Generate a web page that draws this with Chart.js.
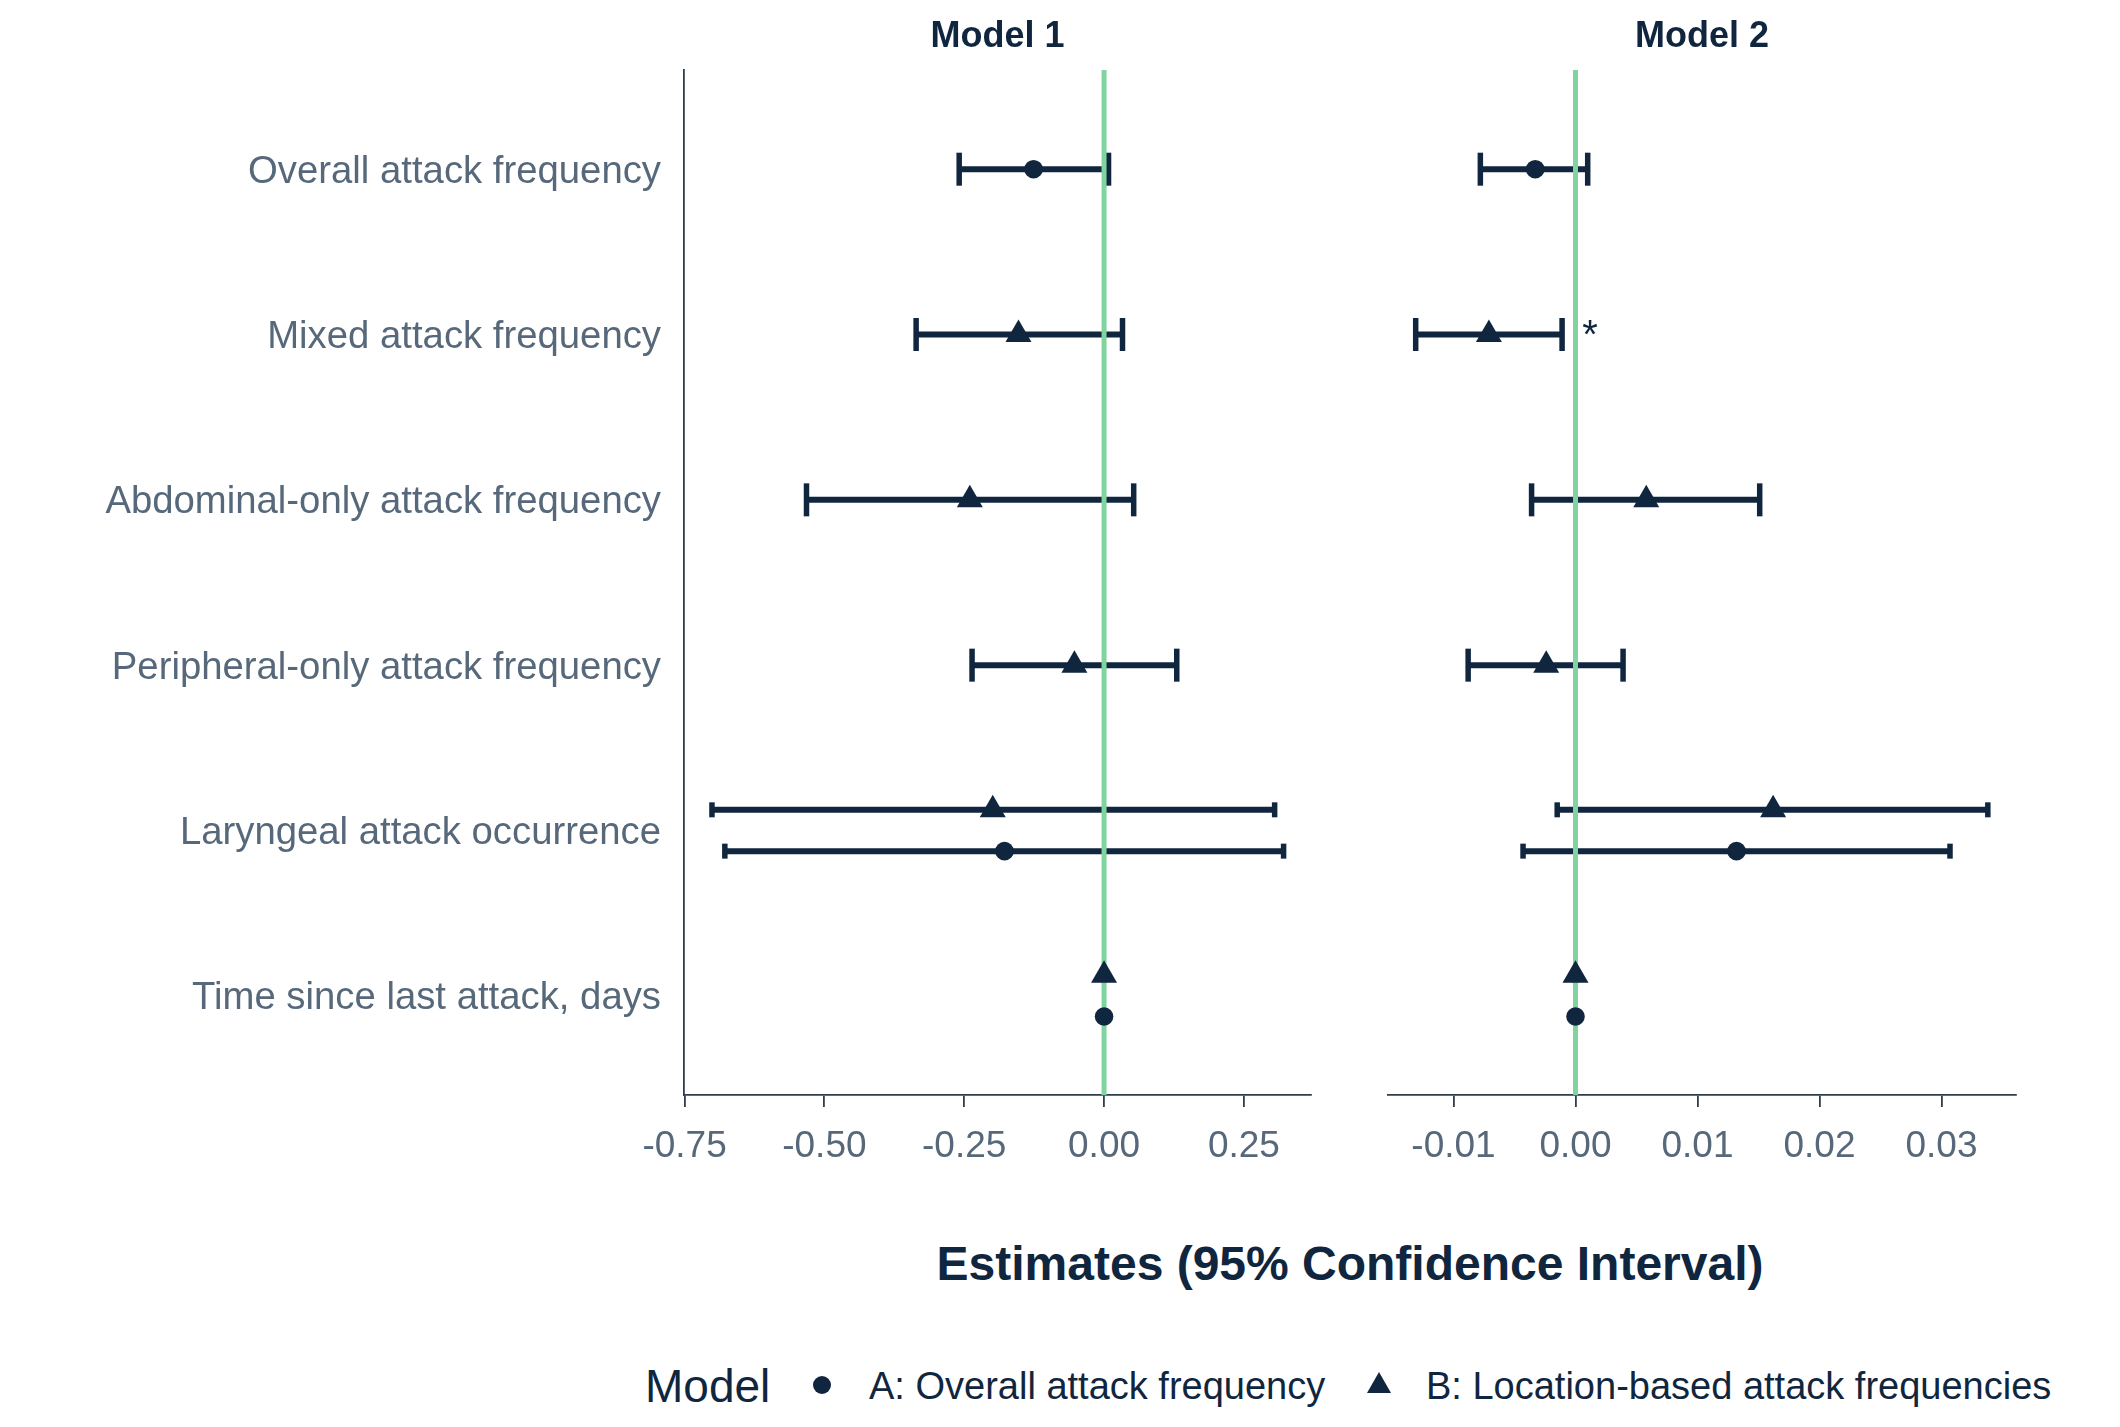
<!DOCTYPE html>
<html lang="en">

<head>
    <meta charset="UTF-8">
    <title>Estimates (95% Confidence Interval)</title>
    <style>
        body { margin: 0; background: #fff; font-family: "Liberation Sans", Arial, sans-serif; color: #10263e; }
        #wrap { position: relative; width: 2120px; height: 1427px; overflow: hidden; }
        canvas { position: absolute; top: 0; }
        #c1 { left: 0; }
        #c2 { left: 1340px; }
        .txt { position: absolute; white-space: nowrap; line-height: 1; }
        #xtitle { left: 1350px; top: 1264px; transform: translate(-50%, -50%); font-weight: bold; font-size: 48px; }
        #legTitle { left: 645px; top: 1386px; transform: translateY(-50%); font-size: 46px; }
        .legItem { top: 1386px; transform: translateY(-50%); font-size: 38px; }
        .mark { position: absolute; }
    </style>
</head>

<body>
    <div id="wrap">
        <canvas id="c1" width="1340" height="1195"></canvas>
        <canvas id="c2" width="780" height="1195"></canvas>
        <div class="txt" id="xtitle">Estimates (95% Confidence Interval)</div>
        <div class="txt" id="legTitle">Model</div>
        <svg class="mark" style="left:812px;top:1375px" width="20" height="20"><circle cx="10" cy="10" r="9" fill="#10263e"/></svg>
        <div class="txt legItem" style="left:869px">A: Overall attack frequency</div>
        <svg class="mark" style="left:1366px;top:1371px" width="26" height="24"><polygon points="13,1 25,22 1,22" fill="#10263e"/></svg>
        <div class="txt legItem" style="left:1426px">B: Location-based attack frequencies</div>
    </div>

    <script src="https://cdn.jsdelivr.net/npm/chart.js@4/dist/chart.umd.min.js"></script>

    <script>
        var navy = "#10263e";
        var green = "#7fd4a0";
        var labelGray = "#56687a";
        var axisCol = "#2f3d4d";

        var categories = [
            "Overall attack frequency",
            "Mixed attack frequency",
            "Abdominal-only attack frequency",
            "Peripheral-only attack frequency",
            "Laryngeal attack occurrence",
            "Time since last attack, days"
        ];

        var xTicks1 = [-0.75, -0.5, -0.25, 0, 0.25];
        var xTicks2 = [-0.01, 0, 0.01, 0.02, 0.03];
        var refLine = 0;

        // Model 1 - A: overall attack frequency
        var m1A_est = [-0.126, null, null, null, -0.178, 0.000];
        var m1A_lo = [-0.259, null, null, null, -0.678, -0.0005];
        var m1A_hi = [0.008, null, null, null, 0.321, 0.0005];
        // Model 1 - B: location-based
        var m1B_est = [null, -0.153, -0.240, -0.053, -0.199, 0.000];
        var m1B_lo = [null, -0.336, -0.532, -0.236, -0.701, -0.0005];
        var m1B_hi = [null, 0.033, 0.053, 0.130, 0.305, 0.0005];
        var m1B_sig = ["", "", "", "", "", ""];

        // Model 2 - A
        var m2A_est = [-0.0033, null, null, null, 0.0132, 0.0000];
        var m2A_lo = [-0.0078, null, null, null, -0.0043, -0.00005];
        var m2A_hi = [0.0010, null, null, null, 0.0307, 0.00005];
        // Model 2 - B
        var m2B_est = [null, -0.0071, 0.0058, -0.0024, 0.0162, 0.0000];
        var m2B_lo = [null, -0.0131, -0.0036, -0.0088, -0.0015, -0.00005];
        var m2B_hi = [null, -0.0011, 0.0151, 0.0039, 0.0338, 0.00005];
        var m2B_sig = ["", "*", "", "", "", ""];

        var dodge = 0.125;

        function rowPos(i, A, B, which) {
            var both = A.est[i] != null && B.est[i] != null;
            if (!both) return i + 1;
            return which === "A" ? i + 1 + dodge : i + 1 - dodge;
        }

        function buildDatasets(A, B) {
            var sets = [];
            var ptsA = [], ptsB = [];
            [["A", A, ptsA], ["B", B, ptsB]].forEach(function (m) {
                var key = m[0], d = m[1], pts = m[2];
                d.est.forEach(function (v, i) {
                    if (v == null) return;
                    var y = rowPos(i, A, B, key);
                    var both = A.est[i] != null && B.est[i] != null;
                    var cap = both ? 7.5 : 16.5;
                    pts.push({ x: v, y: y });
                    sets.push({
                        data: [{ x: d.lo[i], y: y }, { x: d.hi[i], y: y }],
                        showLine: true,
                        borderColor: navy,
                        borderWidth: 6,
                        pointStyle: "line",
                        pointRotation: 90,
                        pointRadius: cap,
                        pointHoverRadius: cap,
                        pointBorderWidth: 5.5,
                        pointBorderColor: navy,
                        order: 3
                    });
                });
            });
            sets.push({
                data: [{ x: refLine, y: 0.4 }, { x: refLine, y: 6.6 }],
                showLine: true,
                borderColor: green,
                borderWidth: 5,
                pointRadius: 0,
                order: 2
            });
            sets.push({
                data: ptsA,
                pointStyle: "circle",
                pointRadius: 9.3,
                pointBackgroundColor: navy,
                pointBorderColor: navy,
                pointBorderWidth: 0,
                order: 1
            });
            sets.push({
                data: ptsB,
                pointStyle: "triangle",
                pointRadius: 15,
                pointBackgroundColor: navy,
                pointBorderColor: navy,
                pointBorderWidth: 0,
                order: 1
            });
            return sets;
        }

        var stripPlugin = {
            id: "strip",
            afterDraw: function (chart, args, opts) {
                var ctx = chart.ctx, area = chart.chartArea;
                ctx.save();
                ctx.fillStyle = navy;
                ctx.font = 'bold 36px "Liberation Sans"';
                ctx.textAlign = "center";
                ctx.textBaseline = "alphabetic";
                ctx.fillText(opts.title, (area.left + area.right) / 2, 47);
                ctx.font = '40px "Liberation Sans"';
                opts.B.sig.forEach(function (s, i) {
                    if (!s) return;
                    var x = chart.scales.x.getPixelForValue(opts.B.hi[i]) + 28;
                    var y = chart.scales.y.getPixelForValue(rowPos(i, opts.A, opts.B, "B")) + 13;
                    ctx.fillText(s, x, y);
                });
                ctx.restore();
            }
        };

        function panel(id, title, A, B, xMin, xMax, xTicks, dec, showY, yWidth, padR) {
            new Chart(document.getElementById(id), {
                type: "scatter",
                data: { datasets: buildDatasets(A, B) },
                plugins: [stripPlugin],
                options: {
                    responsive: false,
                    animation: false,
                    events: [],
                    layout: { padding: { top: 70, left: showY ? 0 : yWidth, right: padR, bottom: 0 } },
                    plugins: {
                        legend: { display: false },
                        tooltip: { enabled: false },
                        strip: { title: title, A: A, B: B }
                    },
                    scales: {
                        x: {
                            type: "linear",
                            min: xMin,
                            max: xMax,
                            afterBuildTicks: function (s) {
                                s.ticks = xTicks.map(function (v) { return { value: v }; });
                            },
                            afterFit: function (s) { s.height = 100; },
                            ticks: {
                                callback: function (v) { return v.toFixed(dec); },
                                color: labelGray,
                                font: { size: 37 },
                                padding: 18,
                                maxRotation: 0,
                                autoSkip: false
                            },
                            grid: {
                                display: true,
                                drawOnChartArea: false,
                                drawTicks: true,
                                tickLength: 12,
                                color: axisCol,
                                lineWidth: 1.8
                            },
                            border: { display: true, color: axisCol, width: 1.8 }
                        },
                        y: {
                            type: "linear",
                            reverse: true,
                            min: 0.4,
                            max: 6.6,
                            display: showY,
                            afterBuildTicks: function (s) {
                                s.ticks = categories.map(function (c, i) { return { value: i + 1 }; });
                            },
                            afterFit: function (s) { s.width = showY ? yWidth : 0; },
                            ticks: {
                                callback: function (v) { return categories[Math.round(v) - 1]; },
                                color: labelGray,
                                font: { size: 38.3 },
                                padding: 23,
                                labelOffset: 3,
                                autoSkip: false
                            },
                            grid: { display: false, drawTicks: false },
                            border: { display: true, color: axisCol, width: 1.8 }
                        }
                    }
                }
            });
        }

        Chart.defaults.font.family = '"Liberation Sans", Arial, sans-serif';

        panel("c1", "Model 1",
            { est: m1A_est, lo: m1A_lo, hi: m1A_hi },
            { est: m1B_est, lo: m1B_lo, hi: m1B_hi, sig: m1B_sig },
            -0.751, 0.370, xTicks1, 2, true, 684, 29);

        panel("c2", "Model 2",
            { est: m2A_est, lo: m2A_lo, hi: m2A_hi },
            { est: m2B_est, lo: m2B_lo, hi: m2B_hi, sig: m2B_sig },
            -0.01537, 0.03611, xTicks2, 2, false, 48, 104);
    </script>
</body>

</html>
